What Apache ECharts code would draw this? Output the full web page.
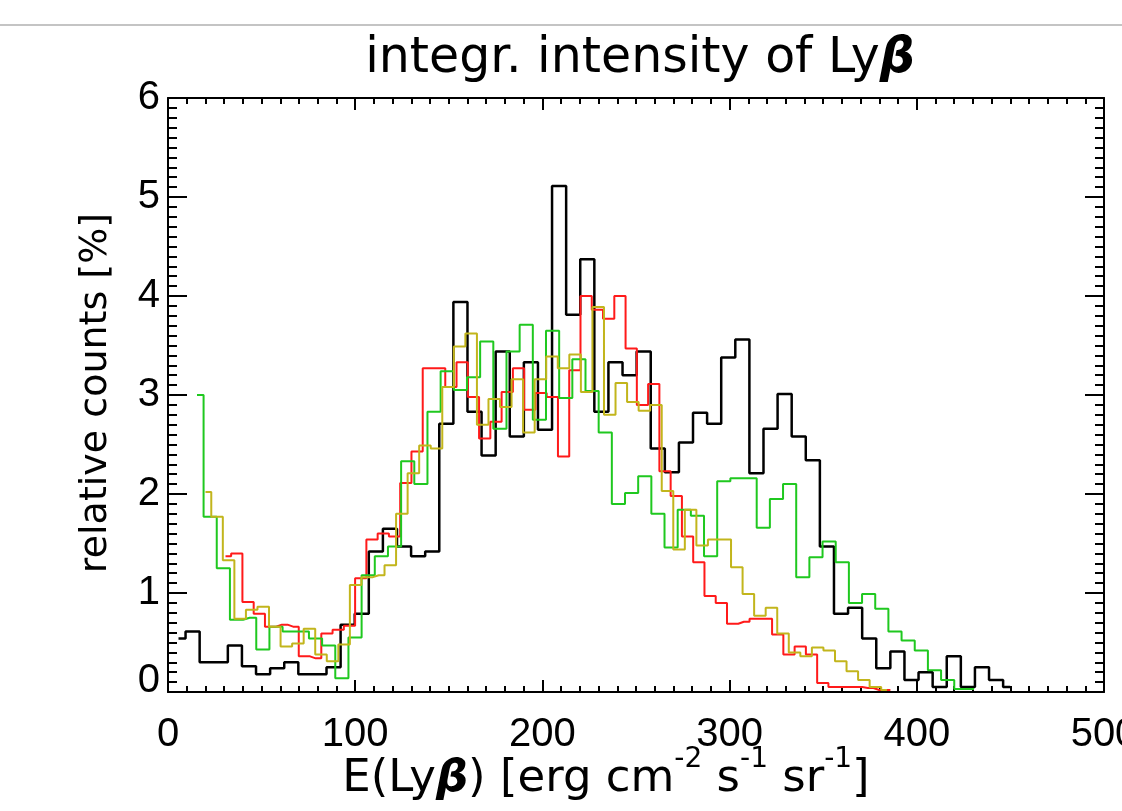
<!DOCTYPE html>
<html>
<head>
<meta charset="utf-8">
<script src="https://cdn.jsdelivr.net/npm/echarts@6/dist/echarts.min.js"></script>
<style>
  html, body { margin: 0; padding: 0; background: #fff; }
  #main { width: 1122px; height: 811px; }
</style>
</head>
<body>
<div id="main"></div>
<script>
// histogram bins: first bin centre and bin width, in erg units
var blackStart = 5.61, blackWidth = 7.53;
var redStart = 30.72, redWidth = 6.02;
var greenStart = 15.49, greenWidth = 7.035;
var oliveStart = 20.03, oliveWidth = 6.17;

// relative counts [%] per bin
var blackCounts = [0.54, 0.61, 0.30, 0.30, 0.47, 0.26, 0.18, 0.24, 0.30, 0.18,
  0.18, 0.25, 0.68, 0.79, 1.42, 1.65, 1.47, 1.37, 1.42, 2.71,
  3.94, 2.83, 2.39, 3.44, 2.58, 3.33, 2.65, 5.11, 3.81, 4.37,
  2.83, 3.33, 3.20, 3.44, 2.46, 2.22, 2.52, 2.82, 2.71, 3.38,
  3.56, 2.21, 2.66, 3.01, 2.58, 2.34, 1.47, 0.79, 0.85, 0.54,
  0.24, 0.41, 0.12, 0.20, 0.05, 0.36, 0.05, 0.25, 0.12, 0.05];
var redCounts = [1.37, 1.40, 0.91, 0.79, 0.66, 0.68, 0.66, 0.36, 0.34, 0.59,
  0.63, 0.67, 1.15, 1.54, 1.60, 1.57, 2.11, 2.43, 3.27, 3.27,
  3.08, 3.33, 2.98, 2.56, 2.73, 3.03, 3.27, 2.85, 3.02, 2.98,
  2.38, 3.25, 4.00, 3.86, 3.77, 4.00, 3.47, 2.90, 3.11, 2.23,
  1.98, 1.57, 1.31, 0.97, 0.90, 0.69, 0.71, 0.74, 0.74, 0.58,
  0.38, 0.46, 0.38, 0.09, 0.05, 0.05, 0.05, 0.04, 0.02, 0.02];
var greenCounts = [3.00, 1.77, 1.25, 0.73, 0.75, 0.43, 0.66, 0.61, 0.61, 0.54,
  0.47, 0.14, 0.55, 1.18, 1.37, 1.47, 2.33, 2.10, 2.83, 3.24,
  3.05, 3.18, 3.54, 2.66, 3.44, 3.71, 2.75, 3.65, 2.97, 3.36,
  3.04, 2.62, 1.90, 2.01, 2.18, 1.80, 1.46, 1.84, 1.78, 1.37,
  2.13, 2.16, 2.16, 1.66, 1.95, 2.10, 1.16, 1.36, 1.52, 1.31,
  0.90, 0.99, 0.84, 0.61, 0.52, 0.42, 0.22, 0.12, 0.03, 0.03];
var oliveCounts = [2.02, 1.77, 1.33, 0.74, 0.83, 0.86, 0.66, 0.46, 0.49, 0.64,
  0.38, 0.31, 0.48, 1.08, 1.16, 1.18, 1.28, 1.80, 2.21, 2.49,
  2.46, 3.08, 3.49, 3.62, 2.70, 2.96, 2.88, 3.16, 2.62, 3.16,
  3.39, 3.27, 3.41, 3.03, 3.89, 2.80, 3.12, 2.93, 2.84, 2.90,
  2.03, 1.44, 1.84, 1.48, 1.54, 1.54, 1.26, 0.99, 0.77, 0.85,
  0.59, 0.40, 0.36, 0.45, 0.42, 0.31, 0.21, 0.12, 0.05, 0.02];

function bins(start, width, counts) {
  return counts.map(function (v, i) { return [start + i * width, v]; });
}

function histSeries(name, color, lw, start, width, counts) {
  return {
    name: name,
    type: 'line',
    step: 'middle',
    showSymbol: false,
    data: bins(start, width, counts),
    lineStyle: { color: color, width: lw },
    itemStyle: { color: color },
    z: 3
  };
}

var labelFont = { fontFamily: 'Liberation Sans', fontSize: 40, color: '#000' };
var frameLine = { show: true, onZero: false, lineStyle: { color: '#000', width: 2 } };

// x axes: bottom with labels, top mirror (IDL box style)
function xAxisOpt(pos, labels) {
  return {
    type: 'value', min: 0, max: 500, interval: 100, position: pos,
    axisLine: frameLine,
    axisTick: { show: true, inside: true, length: 12, lineStyle: { color: '#000', width: 2 } },
    minorTick: { show: true, splitNumber: 10, length: 6, lineStyle: { color: '#000', width: 2 } },
    axisLabel: labels ? Object.assign({ margin: 23 }, labelFont) : { show: false },
    splitLine: { show: false },
    minorSplitLine: { show: false }
  };
}
function yAxisOpt(pos, labels) {
  return {
    type: 'value', min: 0, max: 6, interval: 1, position: pos,
    axisLine: frameLine,
    axisTick: { show: true, inside: true, length: 19, lineStyle: { color: '#000', width: 2 } },
    minorTick: { show: true, splitNumber: 10, length: 9, lineStyle: { color: '#000', width: 2 } },
    axisLabel: labels ? Object.assign({ margin: 8, lineHeight: 22, verticalAlignMinLabel: 'bottom' }, labelFont) : { show: false },
    splitLine: { show: false },
    minorSplitLine: { show: false }
  };
}

var chart = echarts.init(document.getElementById('main'));
chart.setOption({
  backgroundColor: '#fff',
  animation: false,
  grid: { left: 168, right: 18, top: 98, bottom: 119, containLabel: false, outerBoundsMode: 'none' },
  xAxis: [xAxisOpt('bottom', true), xAxisOpt('top', false)],
  yAxis: [yAxisOpt('left', true), yAxisOpt('right', false)],
  graphic: [{
    type: 'line',
    shape: { x1: 0, y1: 25, x2: 1122, y2: 25 },
    style: { stroke: '#c4c4c4', lineWidth: 2 }
  }, {
    type: 'text', x: 640, y: 59,
    style: {
      text: '{n|integr. intensity of Ly}{b|β}',
      align: 'center', verticalAlign: 'middle', textAlign: 'center', textVerticalAlign: 'middle',
      rich: {
        n: { fontFamily: 'DejaVu Sans', fontSize: 49, fill: '#000' },
        b: { fontFamily: 'DejaVu Sans', fontSize: 49, fontWeight: 'bold', fontStyle: 'italic', fill: '#000' }
      }
    }
  }, {
    type: 'text', x: 606, y: 779,
    style: {
      text: '{n|E(Ly}{b|β}{n|) [erg cm}{s|-2}{n| s}{s|-1}{n| sr}{s|-1}{n|]}',
      align: 'center', verticalAlign: 'middle', textAlign: 'center', textVerticalAlign: 'middle',
      rich: {
        n: { fontFamily: 'DejaVu Sans', fontSize: 45, fill: '#000' },
        b: { fontFamily: 'DejaVu Sans', fontSize: 45, fontWeight: 'bold', fontStyle: 'italic', fill: '#000' },
        s: { fontFamily: 'DejaVu Sans', fontSize: 28, fill: '#000', padding: [0, 0, 38, 0] }
      }
    }
  }, {
    type: 'text', x: 96, y: 393, rotation: Math.PI / 2,
    style: {
      text: 'relative counts [%]',
      fontFamily: 'DejaVu Sans', fontSize: 38, fill: '#000',
      align: 'center', verticalAlign: 'middle', textAlign: 'center', textVerticalAlign: 'middle'
    }
  }],
  series: [
    histSeries('black', '#000000', 2.5, blackStart, blackWidth, blackCounts),
    histSeries('red', '#ff1a1a', 2, redStart, redWidth, redCounts),
    histSeries('green', '#1fc81f', 2, greenStart, greenWidth, greenCounts),
    histSeries('olive', '#c2b51c', 2, oliveStart, oliveWidth, oliveCounts)
  ]
});
</script>
</body>
</html>
